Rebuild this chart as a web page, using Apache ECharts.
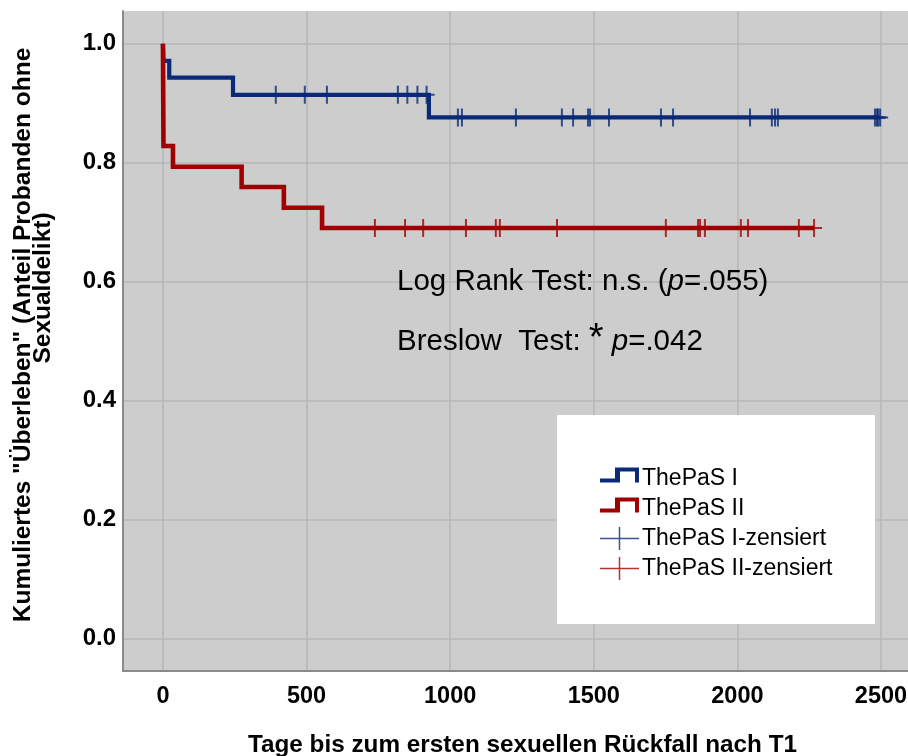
<!DOCTYPE html>
<html><head><meta charset="utf-8">
<script src="https://cdn.jsdelivr.net/npm/echarts@6/dist/echarts.min.js"></script>
<style>html,body{margin:0;padding:0;background:#fff}#c{width:908px;height:756px}</style>
</head><body><div id="c"></div>
<script>
// ---- data ----
const seriesNames = ['ThePaS I', 'ThePaS II'];
const censorNames = ['ThePaS I-zensiert', 'ThePaS II-zensiert'];
const eventTimesI = [0, 2, 22, 244, 926];
const survivalI   = [1.0, 0.971, 0.943, 0.914, 0.876];
const censorTimesI = [393, 494, 571, 818, 851, 886, 918, 1027, 1041, 1229, 1389, 1428, 1480, 1487, 1553, 1734, 1776, 2044, 2120, 2131, 2141, 2479, 2486, 2490, 2497];
const eventTimesII = [0, 2, 35, 274, 421, 554];
const survivalII   = [1.0, 0.828, 0.793, 0.759, 0.724, 0.690];
const censorTimesII = [738, 843, 906, 1055, 1159, 1173, 1372, 1751, 1863, 1870, 1887, 2012, 2037, 2214, 2267];
const xTicks = [0, 500, 1000, 1500, 2000, 2500];
const yTicks = [0.0, 0.2, 0.4, 0.6, 0.8, 1.0];
const xTitle = 'Tage bis zum ersten sexuellen Rückfall nach T1';
const yTitleLine1 = 'Kumuliertes "Überleben" (Anteil Probanden ohne';
const yTitleLine2 = 'Sexualdelikt)';

// ---- helpers ----
function kmLine(times, surv, censors) {
  const pts = times.map((t, i) => [t, surv[i]]);
  const last = Math.max(...censors, times[times.length - 1]);
  pts.push([last, surv[surv.length - 1]]);
  return pts;
}
function survAt(times, surv, t) {
  let s = surv[0];
  for (let i = 0; i < times.length; i++) if (times[i] <= t) s = surv[i];
  return s;
}
const isTick = (arr, v) => arr.some(t => Math.abs(t - v) < 1e-9);

const BLUE = '#0a2a78', RED = '#a00000';
const FONT = '"Liberation Sans", Arial, sans-serif';
const plusSym = 'path://M7,0H9V8H16V10H9V18H7V10H0V8H7Z';
const stepIcon = 'path://M0,0h0.01v0.01h-0.01Z M0,23h0.01v0.01h-0.01Z M0,11.5H15V0.5H39V15.5H35V4.5H20V15.5H0Z';
const plusIcon = 'path://M0,10.75H18.75V0H20.25V10.75H39V12.25H20.25V23H18.75V12.25H0Z';

const chart = echarts.init(document.getElementById('c'), null, {renderer: 'canvas'});
chart.setOption({
  animation: false,
  backgroundColor: '#ffffff',
  grid: {left: 123, right: 0, top: 11, bottom: 85, show: true, backgroundColor: '#cdcdcd', borderWidth: 0,
         containLabel: false, outerBoundsMode: 'none'},
  xAxis: {
    type: 'value', min: -139, max: 2594, splitNumber: 5,
    axisLine: {show: true, onZero: false, lineStyle: {color: '#8a8a8a', width: 2}},
    axisTick: {show: false},
    splitLine: {show: true, showMinLine: false, showMaxLine: false, lineStyle: {color: '#b6b6b6', width: 1.5}},
    axisLabel: {showMinLabel: false, showMaxLabel: false, margin: 14, color: '#000', fontFamily: FONT, fontWeight: 'bold', fontSize: 23.5,
      formatter: v => isTick(xTicks, v) ? String(v) : ''},
    name: xTitle, nameLocation: 'middle', nameGap: 62,
    nameTextStyle: {color: '#000', fontFamily: FONT, fontWeight: 'bold', fontSize: 24.3, padding: [0, 0, 0, 14]}
  },
  yAxis: {
    type: 'value', min: -0.055, max: 1.055, splitNumber: 5,
    axisLine: {show: true, onZero: false, lineStyle: {color: '#8a8a8a', width: 2}},
    axisTick: {show: false},
    splitLine: {show: true, showMinLine: false, showMaxLine: false, lineStyle: {color: '#b6b6b6', width: 1.5}},
    axisLabel: {showMinLabel: false, showMaxLabel: false, margin: 7, color: '#000', fontFamily: FONT, fontWeight: 'bold', fontSize: 24,
      padding: [12, 0, 0, 0],
      formatter: v => isTick(yTicks, v) ? v.toFixed(1) : ''}
  },
  legend: {
    orient: 'vertical', left: 600, top: 467, z: 20, itemWidth: 39, itemHeight: 23, itemGap: 7,
    selectedMode: false, padding: 0,
    itemStyle: {borderWidth: 0},
    textStyle: {color: '#000', fontFamily: FONT, fontSize: 23, padding: [0, 0, 0, -2]},
    data: [
      {name: seriesNames[0], icon: stepIcon},
      {name: seriesNames[1], icon: stepIcon},
      {name: censorNames[0], icon: plusIcon},
      {name: censorNames[1], icon: plusIcon}
    ]
  },
  graphic: [
    {type: 'rect', z: 10, shape: {x: 557, y: 415, width: 318, height: 209}, style: {fill: '#ffffff'}},
    {type: 'text', z: 10, x: 23, y: 335, rotation: Math.PI / 2, style: {
      text: yTitleLine1, fill: '#000', fontFamily: FONT, fontWeight: 'bold', fontSize: 24.5, align: 'center', verticalAlign: 'middle'}},
    {type: 'text', z: 10, x: 43, y: 288, rotation: Math.PI / 2, style: {
      text: yTitleLine2, fill: '#000', fontFamily: FONT, fontWeight: 'bold', fontSize: 24.5, align: 'center', verticalAlign: 'middle'}},
    {type: 'text', z: 10, x: 397, y: 282, style: {
      text: 'Log Rank Test: n.s. ({i|p}=.055)', fill: '#000', fontFamily: FONT, fontSize: 29.5, verticalAlign: 'middle',
      rich: {i: {fontStyle: 'italic', fontFamily: FONT, fontSize: 29.5, fill: '#000'}}}},
    {type: 'text', z: 10, x: 397, y: 342, style: {
      text: 'Breslow  Test: {s|*} {i|p}=.042', fill: '#000', fontFamily: FONT, fontSize: 29.5, verticalAlign: 'middle',
      rich: {i: {fontStyle: 'italic', fontFamily: FONT, fontSize: 29.5, fill: '#000'},
             s: {fontFamily: FONT, fontSize: 38, fill: '#000', padding: [0, 0, 4, 0]}}}}
  ],
  series: [
    {name: seriesNames[0], type: 'line', step: 'end', symbol: 'none', color: BLUE, z: 3,
     lineStyle: {color: BLUE, width: 4.2, join: 'miter', cap: 'butt'}, data: kmLine(eventTimesI, survivalI, censorTimesI)},
    {name: seriesNames[1], type: 'line', step: 'end', symbol: 'none', color: RED, z: 3,
     lineStyle: {color: RED, width: 4.6, join: 'miter', cap: 'butt'}, data: kmLine(eventTimesII, survivalII, censorTimesII)},
    {name: censorNames[0], type: 'scatter', symbol: plusSym, symbolSize: [16, 18], color: BLUE, z: 4,
     itemStyle: {color: BLUE}, data: censorTimesI.map(t => [t, survAt(eventTimesI, survivalI, t)])},
    {name: censorNames[1], type: 'scatter', symbol: plusSym, symbolSize: [16, 18], color: RED, z: 4,
     itemStyle: {color: RED}, data: censorTimesII.map(t => [t, survAt(eventTimesII, survivalII, t)])}
  ]
});
</script>
</body></html>
